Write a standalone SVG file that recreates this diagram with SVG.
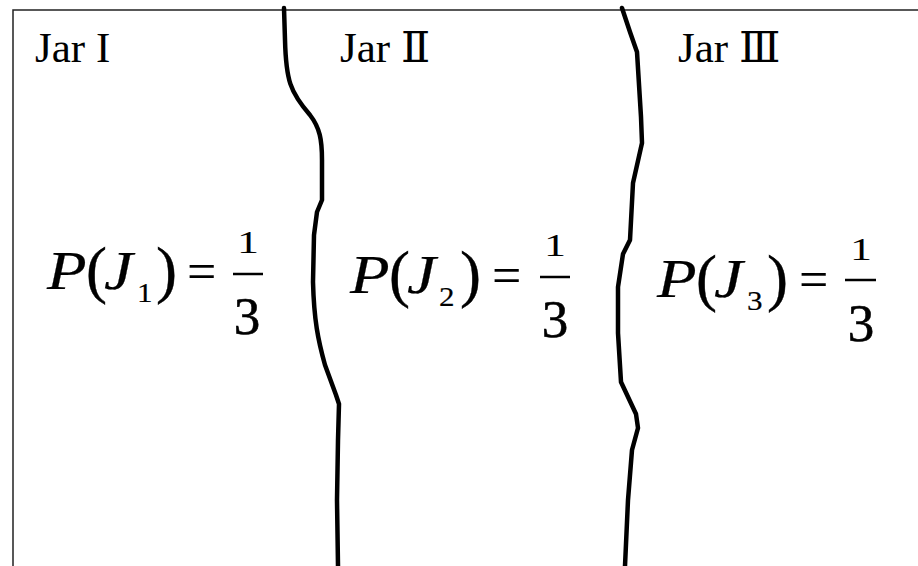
<svg xmlns="http://www.w3.org/2000/svg" width="918" height="566" viewBox="0 0 918 566">
<style>
.lbl{font-family:"Liberation Serif","DejaVu Serif",serif;font-size:43px;fill:#000}
.f text{font-family:"Liberation Serif","DejaVu Serif",serif;fill:#000}
.it{font-style:italic;font-size:54px;stroke:#000;stroke-width:0.2}
.rm{font-size:52px}
.par{font-size:63px;stroke:#000;stroke-width:0.4}
.sub{font-size:27px;stroke:#000;stroke-width:0.2}
.one{font-size:44px;text-anchor:middle}
.three{font-size:53px;text-anchor:middle;stroke:#000;stroke-width:0.6}
.bar{stroke:#000;stroke-width:2.5}
.wave{fill:none;stroke:#000;stroke-width:4.5;stroke-linecap:round;stroke-linejoin:round}
</style>
<rect width="918" height="566" fill="#fff"/>
<path d="M13,566 V10 H918" fill="none" stroke="#222" stroke-width="1.5"/>
<g id="connectors">
<path class="wave" d="M284,8 L285,40 C286,80 290,92 310,115 C320,128 322,140 322,160 L322,200 L317,212 L314,235 L313,282 C314,320 318,340 325,365 L336,395 L339,404 L338,440 L337,500 L338,566"/>
<path class="wave" d="M622,8 L630,32 L637,52 L641,117 L642,143 L633,183 L630,240 L623,254 L618,287 L618,333 L621,382 L636,414 L638,428 L632,450 L628,500 L625,566"/>
</g>
<g id="jar1" class="f">
<text class="lbl" x="35" y="62">Jar I</text>
<text class="it" transform="translate(47,289) scale(1.2,1)">P</text>
<text class="par" x="86" y="291">(</text>
<text class="it" transform="translate(104,289) scale(1.2,1)">J</text>
<text class="sub" transform="translate(137,302) scale(1.15,1)">1</text>
<text class="par" x="156" y="291">)</text>
<text class="rm" x="187" y="289">=</text>
<line class="bar" x1="233" y1="274" x2="263" y2="274"/>
<text class="one" transform="translate(248,253) scale(1,0.7)">1</text>
<text class="three" x="247" y="334">3</text>
</g>
<g id="jar2" class="f">
<text class="lbl" x="340" y="62">Jar Ⅱ</text>
<text class="it" transform="translate(350,293) scale(1.2,1)">P</text>
<text class="par" x="389" y="295">(</text>
<text class="it" transform="translate(407,293) scale(1.2,1)">J</text>
<text class="sub" transform="translate(439,306) scale(1.15,1)">2</text>
<text class="par" x="460" y="295">)</text>
<text class="rm" x="492" y="293">=</text>
<line class="bar" x1="540" y1="277" x2="570" y2="277"/>
<text class="one" transform="translate(555,256) scale(1,0.7)">1</text>
<text class="three" x="555" y="337">3</text>
</g>
<g id="jar3" class="f">
<text class="lbl" x="678" y="62">Jar Ⅲ</text>
<text class="it" transform="translate(657,297) scale(1.2,1)">P</text>
<text class="par" x="696" y="299">(</text>
<text class="it" transform="translate(714,297) scale(1.2,1)">J</text>
<text class="sub" transform="translate(747,310) scale(1.15,1)">3</text>
<text class="par" x="767" y="299">)</text>
<text class="rm" x="799" y="297">=</text>
<line class="bar" x1="845" y1="280" x2="876" y2="280"/>
<text class="one" transform="translate(861,260) scale(1,0.7)">1</text>
<text class="three" x="861" y="341">3</text>
</g>
</svg>
